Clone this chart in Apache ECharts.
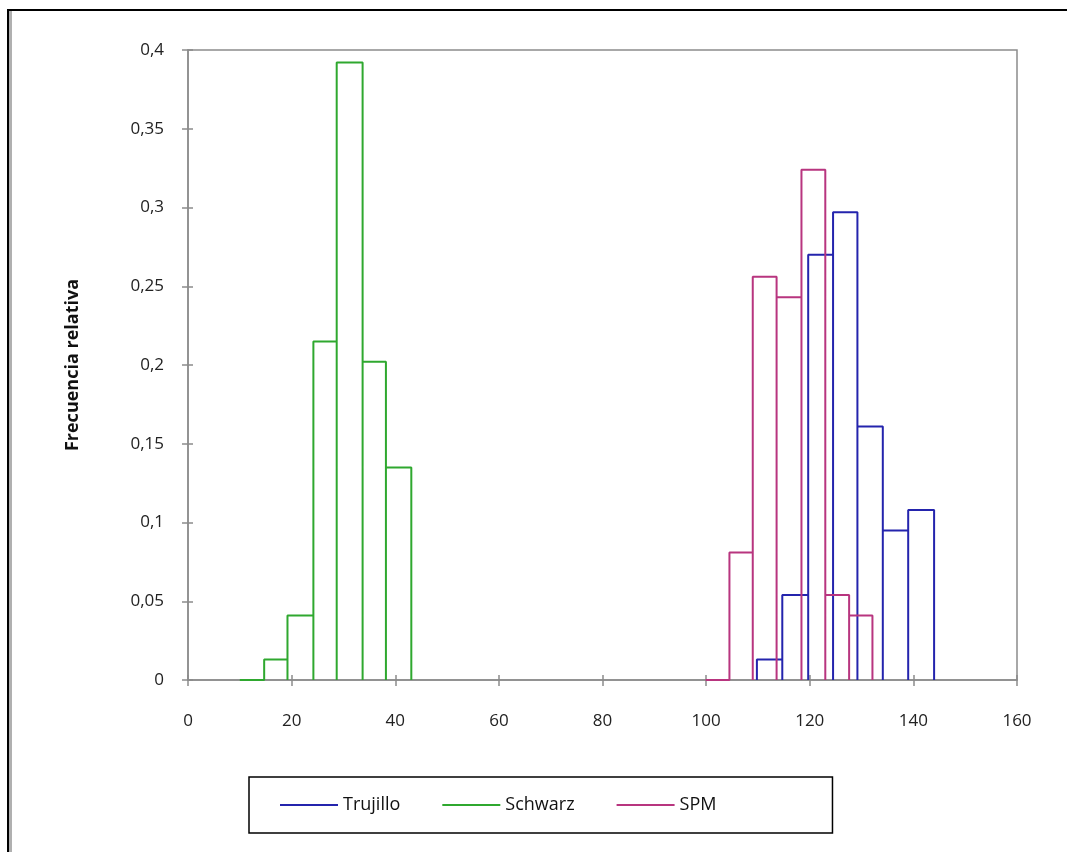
<!DOCTYPE html>
<html>
<head>
<meta charset="utf-8">
<script src="https://cdn.jsdelivr.net/npm/echarts@6/dist/echarts.min.js"></script>
<style>
html, body { margin:0; padding:0; background:#fff; }
#frame { position:absolute; left:7px; top:9px; width:1060px; height:843px;
         border-top:2px solid #000; border-left:2px solid #000; box-sizing:border-box; }
#frame .inner { position:absolute; left:0; top:0; width:3px; height:100%; background:#b0b0b0; }
#main { position:absolute; left:0; top:0; width:1067px; height:852px; }
</style>
</head>
<body>
<div id="frame"><div class="inner"></div></div>
<div id="main"></div>
<script>
// bin edges (x) and relative frequency of each bin
var trujilloEdges = [109.8, 114.7, 119.7, 124.5, 129.2, 134.1, 139.0, 144.0];
var trujilloFreq  = [0.013, 0.054, 0.270, 0.297, 0.161, 0.095, 0.108];

var schwarzEdges = [10.0, 14.7, 19.2, 24.2, 28.7, 33.7, 38.2, 43.1];
var schwarzFreq  = [0, 0.013, 0.041, 0.215, 0.392, 0.202, 0.135];

var spmEdges = [99.9, 104.5, 109.0, 113.6, 118.4, 123.0, 127.6, 132.1];
var spmFreq  = [0, 0.081, 0.256, 0.243, 0.324, 0.054, 0.041];

var seriesNames = ['Trujillo', 'Schwarz', 'SPM'];
var colors = ['#2424ad', '#2fa82f', '#b8357f'];

// each bin drawn as its own box outline
function outline(edges, freq)
{
	var pts = [];
	for (var i = 0; i < freq.length; i++) {
		pts.push([edges[i], 0]);
		pts.push([edges[i], freq[i]]);
		pts.push([edges[i + 1], freq[i]]);
		pts.push([edges[i + 1], 0]);
	}
	return pts;
}

function comma(v)
{
	return String(parseFloat(v.toFixed(2))).replace('.', ',');
}

var axisGrey = '#8c8c8c';
var FONT = 'Open Sans';

var option = {
	animation: false,
	backgroundColor: 'rgba(0,0,0,0)',
	grid: {
		left: 188, top: 50, right: 50, bottom: 172,
		show: true, borderColor: axisGrey, borderWidth: 1.5
	},
	legend: {
		data: seriesNames,
		left: 249, top: 777,
		icon: 'rect', itemWidth: 58, itemHeight: 2, itemGap: 42,
		padding: [19, 116, 19, 31],
		borderColor: '#000', borderWidth: 1.5,
		textStyle: { fontFamily: FONT, fontSize: 18, color: '#111' }
	},
	xAxis: [
		{
			type: 'value', min: 0, max: 160, interval: 20, position: 'bottom',
			axisLine: { show: true, lineStyle: { color: axisGrey, width: 1.5 } },
			axisTick: { show: true, length: 6, lineStyle: { color: axisGrey, width: 1.5 } },
			axisLabel: { margin: 33, fontFamily: FONT, fontSize: 17, color: '#222' },
			splitLine: { show: false }
		},
		{
			type: 'value', min: 0, max: 160, interval: 20, position: 'bottom',
			axisLine: { show: false },
			axisTick: { show: true, inside: true, length: 5, lineStyle: { color: axisGrey, width: 1.5 } },
			axisLabel: { show: false },
			splitLine: { show: false }
		}
	],
	yAxis: [
		{
			type: 'value', min: 0, max: 0.4, interval: 0.05, position: 'left',
			name: 'Frecuencia relativa', nameLocation: 'middle', nameGap: 106,
			nameTextStyle: { fontFamily: FONT, fontSize: 18, fontWeight: 'bold', color: '#111' },
			axisLine: { show: true, lineStyle: { color: axisGrey, width: 1.5 } },
			axisTick: { show: true, length: 6, lineStyle: { color: axisGrey, width: 1.5 } },
			axisLabel: { margin: 24, fontFamily: FONT, fontSize: 17, color: '#222', formatter: comma },
			splitLine: { show: false }
		},
		{
			type: 'value', min: 0, max: 0.4, interval: 0.05, position: 'left',
			axisLine: { show: false },
			axisTick: { show: true, inside: true, length: 5, lineStyle: { color: axisGrey, width: 1.5 } },
			axisLabel: { show: false },
			splitLine: { show: false }
		}
	],
	series: [
		{ name: 'Trujillo', type: 'line', data: outline(trujilloEdges, trujilloFreq) },
		{ name: 'Schwarz', type: 'line', data: outline(schwarzEdges, schwarzFreq) },
		{ name: 'SPM', type: 'line', data: outline(spmEdges, spmFreq) }
	]
};

for (var i = 0; i < option.series.length; i++) {
	var s = option.series[i];
	s.symbol = 'none';
	s.color = colors[i];
	s.lineStyle = { color: colors[i], width: 2 };
	s.itemStyle = { color: colors[i] };
	s.xAxisIndex = 0;
	s.yAxisIndex = 0;
}

var myChart = echarts.init(document.getElementById('main'));
myChart.setOption(option);
</script>
</body>
</html>
